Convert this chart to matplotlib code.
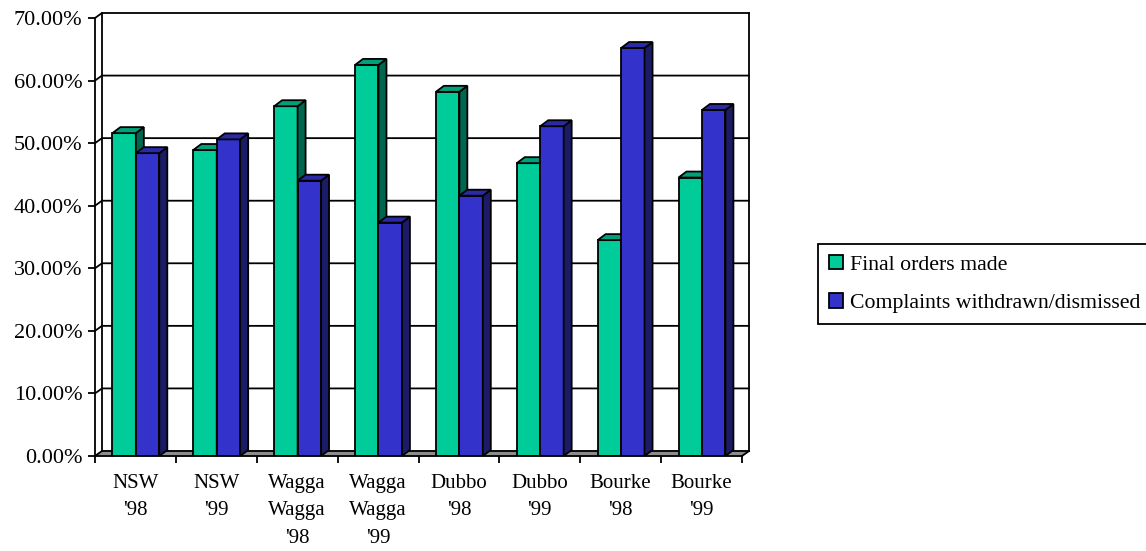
import numpy as np
import matplotlib
matplotlib.use("Agg")
import matplotlib.pyplot as plt
from matplotlib.patches import Patch

plt.rcParams['font.family'] = ['Liberation Serif', 'DejaVu Serif']

# court outcome shares by location and year
categories = ["NSW\n'98", "NSW\n'99", "Wagga\nWagga\n'98", "Wagga\nWagga\n'99",
              "Dubbo\n'98", "Dubbo\n'99", "Bourke\n'98", "Bourke\n'99"]
final_orders = [51.6, 48.9, 55.9, 62.5, 58.2, 46.8, 34.5, 44.5]
withdrawn = [48.4, 50.6, 44.0, 37.3, 41.6, 52.7, 65.2, 55.3]
series_names = ["Final orders made", "Complaints withdrawn/dismissed"]
yticks = np.arange(0, 71, 10)

# face colours: front, side, top
green = ("#00cc99", "#006650", "#00a07a")
blue = ("#3333cc", "#1c1c66", "#2a2aa6")

W, H = 1146, 551
fig = plt.figure(figsize=(W / 100, H / 100), dpi=100)
left_px, right_px, bot_px, top_px = 95, 742, 456, 18
ax = fig.add_axes([left_px / W, 1 - bot_px / H,
                   (right_px - left_px) / W, (bot_px - top_px) / H])
n = len(categories)
ax.set_xlim(0, n)
ax.set_ylim(0, 70)

# pixel sizes in data units, for the fake 3d depth
px_x = n / (right_px - left_px)
px_y = 70 / (bot_px - top_px)
wdx, wdy = 7 * px_x, 5 * px_y      # back wall offset
bdx, bdy = 8 * px_x, 6 * px_y      # bar depth

lw = 1.3
# floor
ax.fill([0, n, n + wdx, wdx], [0, 0, wdy, wdy], color="#8c8c8c", zorder=1,
        clip_on=False)
ax.plot([n, n + wdx], [0, wdy], color="black", lw=lw, clip_on=False, zorder=2)
# back wall gridlines with the side wall diagonals
for v in yticks:
    ax.plot([0, wdx, n + wdx], [v, v + wdy, v + wdy], color="black", lw=lw,
            clip_on=False, zorder=2)
ax.plot([wdx, wdx], [wdy, 70 + wdy], color="black", lw=lw, clip_on=False, zorder=2)
ax.plot([n + wdx, n + wdx], [wdy, 70 + wdy], color="black", lw=lw,
        clip_on=False, zorder=2)

bar_w = 0.29
start = 0.215


def draw_bar(x0, h, cols, z):
    ax.bar(x0, h, width=bar_w, align="edge", color=cols[0], edgecolor="black",
           linewidth=lw, zorder=z)
    x1 = x0 + bar_w
    ax.fill([x1, x1 + bdx, x1 + bdx, x1], [0, bdy, h + bdy, h],
            facecolor=cols[1], edgecolor="black", linewidth=lw, zorder=z)
    ax.fill([x0, x1, x1 + bdx, x0 + bdx], [h, h, h + bdy, h + bdy],
            facecolor=cols[2], edgecolor="black", linewidth=lw, zorder=z,
            clip_on=False)


for i in range(n):
    draw_bar(i + start, final_orders[i], green, 3 + 2 * i)
    draw_bar(i + start + bar_w, withdrawn[i], blue, 4 + 2 * i)

for side in ["top", "right"]:
    ax.spines[side].set_visible(False)
for side in ["left", "bottom"]:
    ax.spines[side].set_linewidth(lw)
    ax.spines[side].set_zorder(30)

ax.set_yticks(yticks)
ax.set_yticklabels([f"{v:.2f}%" for v in yticks], fontsize=16)
ax.tick_params(axis="y", direction="out", length=5, width=lw, pad=4)

ax.set_xticks(np.arange(n + 1))
ax.set_xticklabels([])
ax.tick_params(axis="x", which="major", direction="out", length=5, width=lw)
ax.set_xticks(np.arange(n) + 0.5, minor=True)
ax.set_xticklabels(categories, minor=True, fontsize=15, linespacing=1.6)
ax.tick_params(axis="x", which="minor", length=0, pad=13)

handles = [Patch(facecolor=green[0], edgecolor="black", linewidth=lw),
           Patch(facecolor=blue[0], edgecolor="black", linewidth=lw)]
leg = fig.legend(handles, series_names, loc="center left",
                 bbox_to_anchor=(818 / W, 1 - 284 / H), fontsize=15.7,
                 fancybox=False, edgecolor="black", framealpha=1,
                 handlelength=0.65, handleheight=0.65, handletextpad=0.3,
                 labelspacing=0.85, borderpad=0.5, borderaxespad=0)
leg.get_frame().set_linewidth(lw)

fig.savefig("out.png", dpi=100)
